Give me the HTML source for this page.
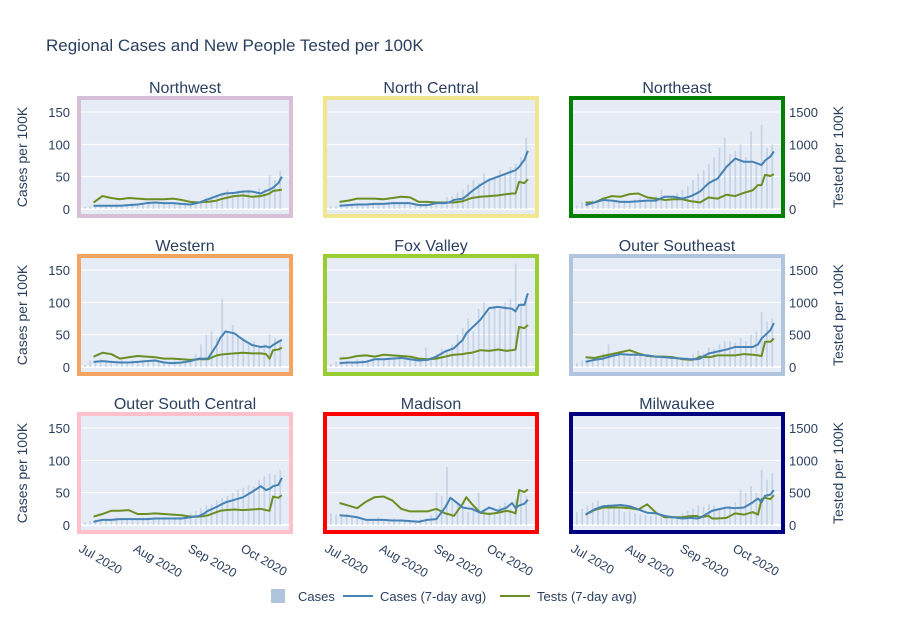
<!DOCTYPE html>
<html><head><meta charset="utf-8"><style>
body{margin:0;background:#fff;}
svg{display:block;font-family:"Liberation Sans",Arial,sans-serif;}
</style></head><body>
<svg id="chart" width="905" height="622" xmlns="http://www.w3.org/2000/svg">
<text x="46" y="51" font-size="17" fill="#2a3f5f">Regional Cases and New People Tested per 100K</text>
<g>
<rect x="271" y="589" width="14" height="14" fill="#b0c4de"/>
<text x="298" y="601" font-size="13" fill="#2a3f5f">Cases</text>
<line x1="343" y1="596" x2="373" y2="596" stroke="#4682b4" stroke-width="2"/>
<text x="380" y="601" font-size="13" fill="#2a3f5f">Cases (7-day avg)</text>
<line x1="500" y1="596" x2="530" y2="596" stroke="#6b8e23" stroke-width="2"/>
<text x="537" y="601" font-size="13" fill="#2a3f5f">Tests (7-day avg)</text>
</g>
</svg>
<script>
// shared day axis (days since Jul 1 2020)
const lineDays = [6,11,16,21,26,31,36,41,46,51,56,61,66,69,71,76,78,81,86,91,96,101,104,106,108,111,113];
const barDays = [-2,1,4,7,10,13,16,19,22,25,28,31,34,37,40,43,46,49,52,55,58,61,64,67,70,73,76,79,82,85,88,91,94,97,100,103,106,109,112];
const regions = ["Northwest","North Central","Northeast","Western","Fox Valley","Outer Southeast","Outer South Central","Madison","Milwaukee"];
const borderColors = ["#d8bfd8","#f0e68c","#008000","#f4a460","#9acd32","#b0c4de","#ffc0cb","#ff0000","#000080"];
const leftTicks = [0,50,100,150];
const rightTicks = [0,500,1000,1500];
const xTickDays = [0,31,62,92];
const xTickLabels = ["Jul 2020","Aug 2020","Sep 2020","Oct 2020"];

const casesAvgNW  = [5,5,5,5,6,7,9,10,9,9,8,7,10,13,15,20,22,24,25,27,27,24,28,30,33,40,50];
const testsAvgNW  = [100,200,170,150,170,160,150,150,150,160,140,110,100,110,110,130,150,170,200,210,190,200,220,240,280,290,300];
const casesAvgNC  = [5,6,7,7,8,8,9,9,9,6,6,9,9,11,14,16,20,27,37,45,50,55,58,60,65,76,90];
const testsAvgNC  = [110,130,160,160,160,150,170,190,180,110,110,100,100,100,100,120,140,170,190,200,210,230,240,240,420,400,460];
const casesAvgNE  = [6,10,14,13,11,11,12,13,13,19,19,16,20,24,27,40,43,47,65,78,73,73,70,68,75,81,89];
const testsAvgNE  = [100,100,160,200,190,230,240,180,160,140,150,150,120,110,100,180,170,160,220,200,250,290,370,370,530,510,540];
const casesAvgW   = [8,9,8,7,7,8,9,10,7,6,7,9,13,13,13,34,45,55,52,42,34,31,32,30,34,39,42];
const testsAvgW   = [160,220,200,130,150,170,160,150,130,130,120,110,120,120,120,180,190,200,210,220,210,210,200,130,260,270,300];
const casesAvgFV  = [6,7,7,8,12,12,13,14,12,10,11,16,24,27,29,42,52,60,73,91,93,91,90,86,96,96,114];
const testsAvgFV  = [130,140,170,180,160,190,180,170,160,130,120,130,160,180,190,200,210,220,260,250,270,250,260,270,620,600,650];
const casesAvgOSE = [8,11,13,17,20,19,19,18,16,15,14,13,12,12,13,21,22,24,27,31,31,31,35,44,49,57,68];
const testsAvgOSE = [150,140,170,200,230,260,210,170,160,160,150,120,110,130,160,150,160,180,180,180,200,190,180,170,390,390,440];
const casesAvgOSC = [5,8,8,9,9,9,9,10,10,10,10,12,14,18,22,28,31,35,39,43,51,60,54,56,60,62,73];
const testsAvgOSC = [130,170,220,220,230,170,170,180,170,160,150,130,130,140,150,200,220,230,240,230,240,250,230,220,440,420,460];
const casesAvgMAD = [15,14,12,8,8,8,7,7,6,5,8,9,27,42,38,27,26,25,19,27,22,27,34,26,30,33,39];
const testsAvgMAD = [340,300,260,360,430,440,380,250,210,210,210,250,180,160,140,330,430,330,190,170,190,220,200,180,540,510,550];
const casesAvgMKE = [16,24,29,30,31,29,24,19,18,14,12,10,11,10,11,19,22,24,27,26,27,35,41,35,45,47,54];
const testsAvgMKE = [160,230,270,270,270,260,240,320,190,120,120,120,140,140,120,140,100,100,110,180,160,200,160,400,420,400,460];

const casesNW  = [6,3,5,6,7,6,5,8,6,7,9,6,10,12,9,10,8,9,7,8,10,7,8,12,18,20,22,25,30,25,28,26,30,20,32,30,52,45,60];
const casesNC  = [5,4,5,8,7,6,7,9,8,10,9,8,10,11,9,10,8,6,7,8,9,10,12,18,20,25,30,38,45,40,55,48,50,60,55,65,70,80,110];
const casesNE  = [8,5,10,12,14,12,18,15,12,10,14,12,15,18,12,14,20,30,15,20,25,30,35,45,55,60,70,80,95,110,85,90,100,80,120,70,130,95,100];
const casesW   = [15,3,10,8,12,10,8,9,11,8,10,9,10,11,12,8,9,7,10,8,9,12,20,35,50,55,45,105,55,65,50,45,35,40,30,35,50,45,40];
const casesFV  = [5,4,8,9,10,8,12,11,10,12,14,13,15,12,14,10,12,10,14,30,15,20,28,25,35,50,60,75,55,90,100,85,95,90,100,105,160,100,110];
const casesOSE = [8,6,10,12,14,16,22,35,20,18,17,16,20,18,14,15,16,14,12,15,12,10,15,20,25,22,30,28,35,40,40,38,45,40,50,55,85,70,75];
const casesOSC = [5,4,6,8,9,10,10,12,9,11,10,9,12,10,9,11,10,8,11,12,14,18,22,26,30,32,38,42,45,50,55,58,62,60,70,75,80,78,85];
const casesMAD = [20,18,16,15,17,12,10,9,8,10,12,9,8,10,7,6,8,7,9,10,15,50,45,90,40,35,25,20,30,50,25,20,18,30,35,25,40,50,45];
const casesMKE = [15,20,25,30,35,38,30,32,25,28,20,22,18,16,15,14,15,12,10,12,14,18,22,25,30,28,32,30,26,28,30,35,55,50,60,50,85,70,80];

const dailyCases = [casesNW,casesNC,casesNE,casesW,casesFV,casesOSE,casesOSC,casesMAD,casesMKE];
const avgCases = [casesAvgNW,casesAvgNC,casesAvgNE,casesAvgW,casesAvgFV,casesAvgOSE,casesAvgOSC,casesAvgMAD,casesAvgMKE];
const avgTests = [testsAvgNW,testsAvgNC,testsAvgNE,testsAvgW,testsAvgFV,testsAvgOSE,testsAvgOSC,testsAvgMAD,testsAvgMKE];

const NS = "http://www.w3.org/2000/svg";
const svg = document.getElementById("chart");
const colX = [77,323,569], rowY = [96,254,412];
const PW = 216, PH = 122;
function mk(tag, attrs, parent){const e=document.createElementNS(NS,tag);for(const k in attrs)e.setAttribute(k,attrs[k]);(parent||svg).appendChild(e);return e;}

const defs = mk("defs",{});
regions.forEach((name,i)=>{
  const r = Math.floor(i/3), c = i%3;
  const x0 = colX[c], y0 = rowY[r];
  const xS = t => x0 + 6 + 1.76*t;
  const yS = v => y0 + 113 - v*0.6467;
  const yT = v => yS(v/10);
  const g = mk("g",{});
  
  
  const cp = mk("clipPath",{id:"cp"+i},defs);
  mk("rect",{x:x0+4,y:y0+4,width:PW-8,height:PH-8},cp);
  const bg = mk("rect",{x:x0,y:y0,width:PW,height:PH,fill:"#e5ecf6"},g);
  
  
  const inner = mk("g",{"clip-path":"url(#cp"+i+")"},g);
  leftTicks.forEach(v=>{
    const gl = mk("line",{x1:x0,x2:x0+PW,y1:yS(v),y2:yS(v),stroke:"#fff","stroke-width":v===0?2:1},inner);
    
    
  });
  dailyCases[i].forEach((v,k)=>{
    const b = mk("rect",{x:xS(barDays[k])-0.8,y:yS(v),width:1.8,height:Math.max(0,yS(0)-yS(v)),fill:"#b0c4de","fill-opacity":0.6},inner);
    
    
  });
  const tl = mk("polyline",{points:lineDays.map((t,k)=>xS(t)+","+yT(avgTests[i][k])).join(" "),fill:"none",stroke:"#6b8e23","stroke-width":2,"stroke-linejoin":"round"},inner);
  
  
  const cl = mk("polyline",{points:lineDays.map((t,k)=>xS(t)+","+yS(avgCases[i][k])).join(" "),fill:"none",stroke:"#4682b4","stroke-width":2,"stroke-linejoin":"round"},inner);
  
  
  const bd = mk("rect",{x:x0+2,y:y0+2,width:PW-4,height:PH-4,fill:"none",stroke:borderColors[i],"stroke-width":4},g);
  
  
  const ti = mk("text",{x:x0+PW/2,y:y0-3,"text-anchor":"middle","font-size":16,fill:"#2a3f5f"},g);
  ti.textContent = name;
  
  
  if(c===0){
    leftTicks.forEach(v=>{
      const t = mk("text",{x:x0-7,y:yS(v)+5,"text-anchor":"end","font-size":13,fill:"#2a3f5f"},g);
      t.textContent = v;
      
      
    });
    const yc = y0+PH/2;
    const at = mk("text",{x:27,y:yc,"text-anchor":"middle","font-size":14,fill:"#2a3f5f",transform:"rotate(-90 27 "+yc+")"},g);
    at.textContent = "Cases per 100K";
    
    
  }
  if(c===2){
    rightTicks.forEach(v=>{
      const t = mk("text",{x:x0+PW+4,y:yT(v)+5,"font-size":13,fill:"#2a3f5f"},g);
      t.textContent = v;
      
      
    });
    const yc = y0+PH/2;
    const at = mk("text",{x:843,y:yc,"text-anchor":"middle","font-size":14,fill:"#2a3f5f",transform:"rotate(-90 843 "+yc+")"},g);
    at.textContent = "Tested per 100K";
    
    
  }
  if(r===2){
    xTickDays.forEach((d,k)=>{
      const tx = xS(d)-5, ty = y0+PH+17;
      const t = mk("text",{x:tx,y:ty,"font-size":12.5,fill:"#2a3f5f",transform:"rotate(30 "+tx+" "+ty+")"},g);
      t.textContent = xTickLabels[k];
      
      
    });
  }
});
</script>
</body></html>
